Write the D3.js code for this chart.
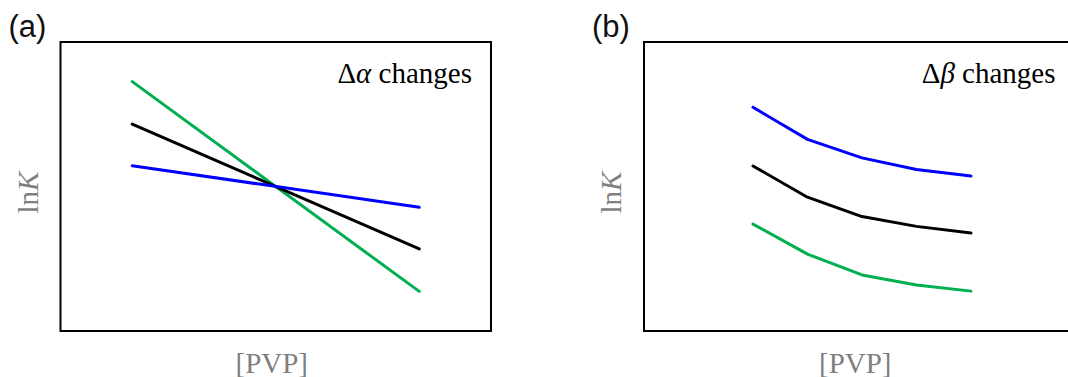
<!DOCTYPE html>
<html>
<head>
<meta charset="utf-8">
<script src="https://cdn.jsdelivr.net/npm/d3@7"></script>
<style>
body { margin: 0; background: #fff; }
</style>
</head>
<body>
<div id="chart"></div>
<script>
// panel (a): straight lines crossing in the middle
var pvpA = [1, 5];
var greenA = [86.3, 13.7];
var blackA = [71.6, 28.4];
var blueA = [57.2, 42.8];

// panel (b): parallel curves
var pvpB = [2, 3, 4, 5, 6];
var blueB = [77.4, 66.3, 59.9, 55.9, 53.6];
var blackB = [57.1, 46.3, 39.6, 36.2, 33.9];
var greenB = [37.0, 26.6, 19.4, 15.9, 13.8];

var width = 1068, height = 377;
var boxW = 430.5, boxH = 289, boxTop = 42;
var serif = "'Liberation Serif', 'Times New Roman', serif";

var svg = d3.select("#chart").append("svg")
     .attr("width", width)
     .attr("height", height);

function panel(left, xDomain, xs, series, tag, greek) {
     var x = d3.scaleLinear().domain(xDomain).range([left, left + boxW]);
     var y = d3.scaleLinear().domain([0, 100]).range([boxTop + boxH, boxTop]);

     var line = d3.line()
          .x(function (d) { return x(d.x); })
          .y(function (d) { return y(d.y); });

     series.forEach(function (s) {
          var pts = xs.map(function (v, i) { return {x: v, y: s.values[i]}; });
          svg.append("path")
               .datum(pts)
               .attr("d", line)
               .attr("fill", "none")
               .attr("stroke", s.color)
               .attr("stroke-width", 3)
               .attr("stroke-linecap", "round")
               .attr("stroke-linejoin", "round");
     });

     svg.append("rect")
          .attr("x", left)
          .attr("y", boxTop)
          .attr("width", boxW)
          .attr("height", boxH)
          .attr("fill", "none")
          .attr("stroke", "#000")
          .attr("stroke-width", 2);

     // panel tag
     svg.append("text")
          .attr("x", left - 52)
          .attr("y", 37)
          .style("font-family", "'Liberation Sans', Arial, sans-serif")
          .style("font-size", "31px")
          .attr("fill", "#111")
          .text(tag);

     // annotation
     var t = svg.append("text")
          .attr("x", left + boxW - 19)
          .attr("y", 83)
          .attr("text-anchor", "end")
          .style("font-family", serif)
          .style("font-size", "29px")
          .attr("fill", "#000");
     t.append("tspan").style("font-family", serif).text("\u0394");
     t.append("tspan").style("font-family", serif).style("font-style", "italic").text(greek);
     t.append("tspan").style("font-family", serif).text(" changes");

     // axis titles
     svg.append("text")
          .attr("x", left + boxW / 2 - 4)
          .attr("y", 372.5)
          .attr("text-anchor", "middle")
          .style("font-family", serif)
          .style("font-size", "29px")
          .attr("fill", "#7f7f7f")
          .text("[PVP]");

     var yl = svg.append("text")
          .attr("transform", "translate(" + (left - 23) + "," + (boxTop + boxH / 2 + 6) + ") rotate(-90)")
          .attr("text-anchor", "middle")
          .style("font-family", serif)
          .style("font-size", "29px")
          .attr("fill", "#7f7f7f");
     yl.append("tspan").text("ln");
     yl.append("tspan").style("font-style", "italic").text("K");
}

panel(60.5, [0, 6], pvpA, [
     {values: greenA, color: "#00b050"},
     {values: blackA, color: "#000000"},
     {values: blueA, color: "#0000ff"}
], "(a)", "\u03b1");

panel(644, [0, 7.9], pvpB, [
     {values: blueB, color: "#0000ff"},
     {values: blackB, color: "#000000"},
     {values: greenB, color: "#00b050"}
], "(b)", "\u03b2");
</script>
</body>
</html>
